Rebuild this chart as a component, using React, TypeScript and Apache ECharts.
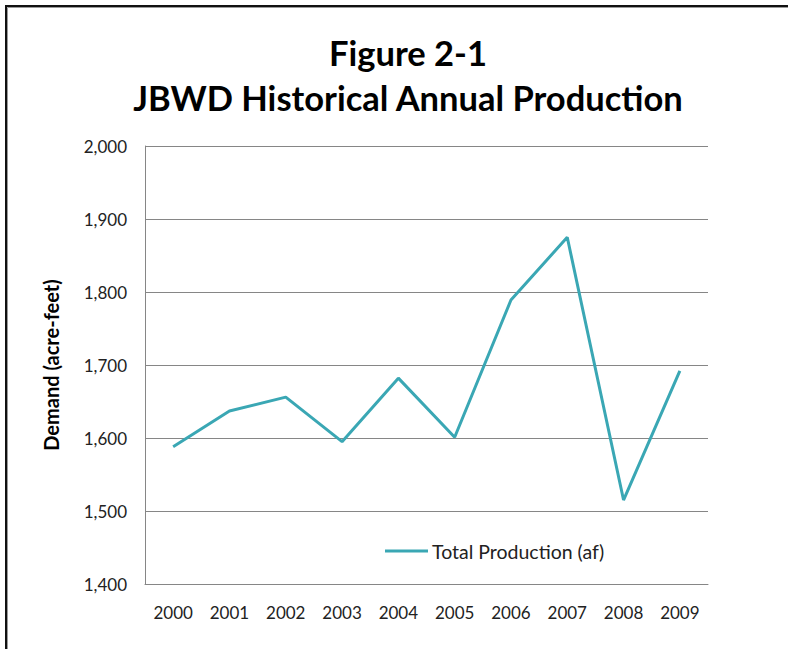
import React, { useEffect, useRef } from "react";
import * as echarts from "echarts";

const years = ["2000", "2001", "2002", "2003", "2004", "2005", "2006", "2007", "2008", "2009"];
const totalProduction = [1588, 1637, 1656, 1595, 1682, 1601, 1789, 1875, 1515, 1692];
const seriesName = "Total Production (af)";
const titleLines = ["Figure 2-1", "JBWD Historical Annual Production"];
const yAxisName = "Demand (acre-feet)";
const yMin = 1400;
const yMax = 2000;
const yStep = 100;

const FONT = "Lato, 'Open Sans', sans-serif";

export default function App() {
  const ref = useRef<HTMLDivElement>(null);
  useEffect(() => {
    if (!ref.current) return;
    const chart = echarts.init(ref.current, null, { renderer: "svg" });
    chart.setOption({
      animation: false,
      backgroundColor: "#ffffff",
      textStyle: { fontFamily: FONT },
      legend: {
        data: [seriesName],
        left: 380,
        top: 536,
        itemWidth: 43,
        itemHeight: 3,
        itemGap: 4,
        icon: "rect",
        textStyle: { fontFamily: FONT, fontSize: 19.5, color: "#222222", padding: [0, 0, 0, -1] },
      },
      grid: { left: 145, top: 146, right: 80, bottom: 65, containLabel: false },
      xAxis: {
        type: "category",
        data: years,
        boundaryGap: true,
        axisLine: { show: true, lineStyle: { color: "#868686", width: 1 } },
        axisTick: { show: false },
        axisLabel: { fontFamily: FONT, fontSize: 17, color: "#222222", margin: 20 },
      },
      yAxis: {
        type: "value",
        min: yMin,
        max: yMax,
        interval: yStep,
        name: yAxisName,
        nameLocation: "middle",
        nameGap: 84,
        nameTextStyle: { fontFamily: FONT, fontSize: 20, fontWeight: "bold", color: "#000000" },
        axisLine: { show: true, lineStyle: { color: "#868686", width: 1 } },
        axisTick: { show: false },
        splitLine: { show: true, lineStyle: { color: "#868686", width: 1 } },
        axisLabel: {
          fontFamily: FONT,
          fontSize: 17,
          color: "#222222",
          margin: 18,
          formatter: (v: number) => v.toLocaleString("en-US"),
        },
      },
      series: [
        {
          name: seriesName,
          type: "line",
          data: totalProduction,
          symbol: "none",
          lineStyle: { color: "#3AA7B4", width: 3 },
          itemStyle: { color: "#3AA7B4" },
        },
      ],
      graphic: [
        {
          type: "rect",
          shape: { x: 6, y: 6, width: 820, height: 700 },
          style: { fill: "none", stroke: "#111111", lineWidth: 2 },
          silent: true,
        },
        {
          type: "rect",
          shape: { x: 7.5, y: 7.5, width: 820, height: 700 },
          style: { fill: "none", stroke: "#9a9a9a", lineWidth: 1 },
          silent: true,
        },
        {
          type: "text",
          x: 408,
          y: 52,
          style: {
            text: titleLines[0],
            fontFamily: FONT,
            fontSize: 34.5,
            fontWeight: "bold",
            fill: "#000000",
            textAlign: "center",
            textVerticalAlign: "middle",
          },
        },
        {
          type: "text",
          x: 408,
          y: 97,
          style: {
            text: titleLines[1],
            fontFamily: FONT,
            fontSize: 34.5,
            fontWeight: "bold",
            fill: "#000000",
            textAlign: "center",
            textVerticalAlign: "middle",
          },
        },
      ],
    });
    return () => chart.dispose();
  }, []);
  return (
    <div style={{ position: "fixed", left: 0, top: 0, width: 788, height: 649, background: "#fff" }}>
      <div ref={ref} style={{ width: 788, height: 649 }} />
    </div>
  );
}
